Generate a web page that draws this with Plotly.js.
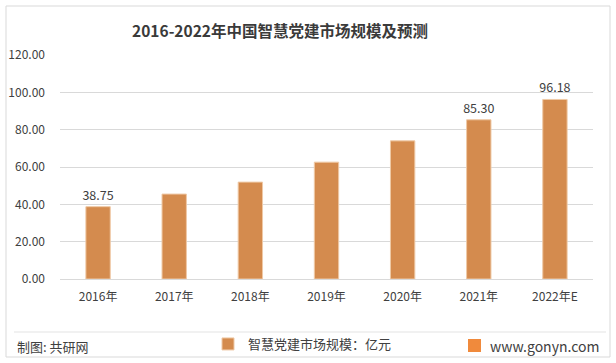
<!DOCTYPE html>
<html>
<head>
<meta charset="utf-8">
<script src="https://cdn.plot.ly/plotly-3.0.1.min.js"></script>
<style>html,body{margin:0;padding:0;background:#fff;}#chart{width:616px;height:363px;}</style>
</head>
<body>
<div id="chart"></div>
<script>
const categories = ['2016年','2017年','2018年','2019年','2020年','2021年','2022年E'];
const marketSize = [38.75, 45.5, 51.9, 62.6, 74.0, 85.30, 96.18];
const valueLabels = ['38.75','','','','','85.30','96.18'];
const yTickVals = [0,20,40,60,80,100,120];
const yTickText = ['0.00','20.00','40.00','60.00','80.00','100.00','120.00'];
const seriesName = '智慧党建市场规模：亿元';
const titleText = '2016-2022年中国智慧党建市场规模及预测';

const font = '"Noto Sans CJK SC", "Noto Sans", sans-serif';
const barColor = '#D48B4E';

const trace = {
  type: 'bar',
  x: categories,
  y: marketSize,
  name: seriesName,
  text: valueLabels,
  textposition: 'outside',
  constraintext: 'none',
  cliponaxis: false,
  textfont: {family: font, size: 12.5, color: '#404040'},
  marker: {color: barColor, line: {color: '#EFC9A6', width: 1}},
  width: 0.32,
  showlegend: true
};

const W = 533, H = 224, L = 60, B = 279;
const px = x => (x - L) / W;
const py = y => (B - y) / H;

const layout = {
  width: 616, height: 363,
  margin: {l: 60, r: 23, t: 55, b: 84, autoexpand: false},
  paper_bgcolor: '#ffffff', plot_bgcolor: '#ffffff',
  font: {family: font, color: '#404040', size: 12},
  title: {text: '<b>' + titleText + '</b>', font: {family: font, size: 15.5, color: '#3A3A3A'},
          x: 280/616, xanchor: 'center', y: 1 - 32/363, yanchor: 'middle'},
  xaxis: {type: 'category', showgrid: false, showline: false, zeroline: false, ticks: '',
          ticklabelstandoff: 9,
          tickfont: {family: font, size: 12, color: '#404040'}, fixedrange: true},
  yaxis: {range: [0, 120], tickvals: yTickVals, ticktext: yTickText, showgrid: true, gridcolor: '#D9D9D9',
          gridwidth: 1, zeroline: true, zerolinecolor: '#D9D9D9', zerolinewidth: 1, showline: false,
          ticks: '', ticklabelstandoff: 14, tickfont: {family: font, size: 12, color: '#404040'}, fixedrange: true},
  showlegend: true,
  legend: {orientation: 'h', x: px(208), xanchor: 'left', yref: 'container', y: 1 - 344/363, yanchor: 'middle',
           font: {family: font, size: 13, color: '#404040'}, bgcolor: 'rgba(0,0,0,0)', itemwidth: 30},
  shapes: [
    {type: 'rect', xref: 'paper', yref: 'paper', x0: px(6), x1: px(610),
     y0: py(357), y1: py(6), line: {color: '#D9D9D9', width: 1}, layer: 'below'},
    {type: 'line', xref: 'paper', yref: 'paper', x0: px(14), x1: px(606),
     y0: py(332), y1: py(332), line: {color: '#E3E3E3', width: 1}},
    {type: 'rect', xref: 'paper', yref: 'paper', x0: px(468), x1: px(481),
     y0: py(352), y1: py(339), line: {width: 0}, fillcolor: '#F08A3C'}
  ],
  annotations: [
    {xref: 'paper', yref: 'paper', x: px(15), y: py(346), xanchor: 'left', yanchor: 'middle',
     text: '制图: 共研网', showarrow: false, font: {family: font, size: 13, color: '#404040'}},
    {xref: 'paper', yref: 'paper', x: px(488), y: py(346), xanchor: 'left', yanchor: 'middle',
     text: 'www.gonyn.com', showarrow: false, font: {family: font, size: 14, color: '#404040'}}
  ]
};

Plotly.newPlot('chart', [trace], layout, {displayModeBar: false, staticPlot: true});
</script>
</body>
</html>
